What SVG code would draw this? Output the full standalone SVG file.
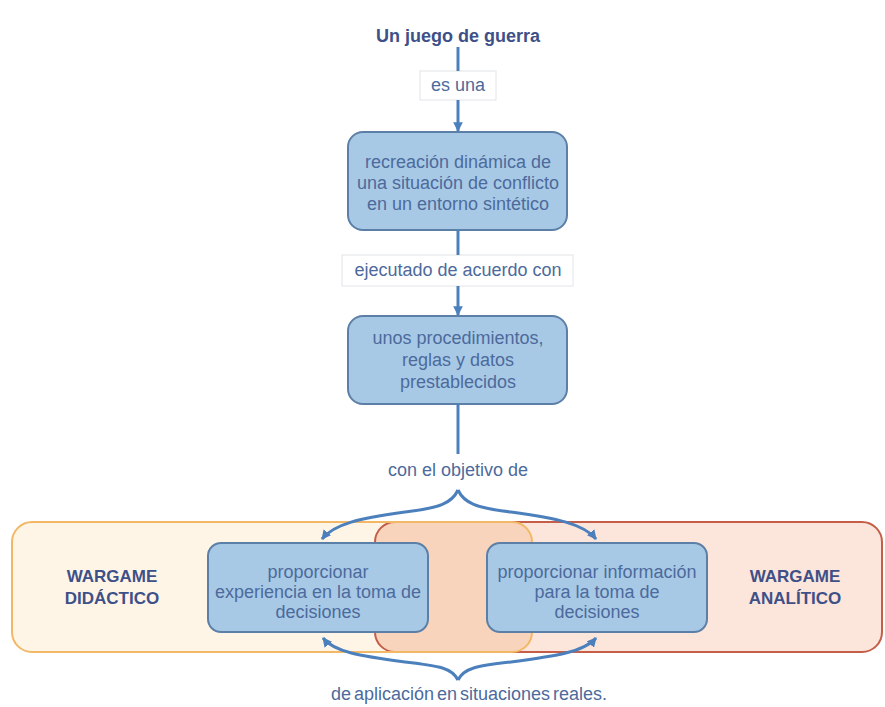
<svg xmlns="http://www.w3.org/2000/svg" width="885" height="707" viewBox="0 0 885 707">
<defs>
<style>
.t{font-family:"Liberation Sans",Arial,sans-serif;font-size:18px;fill:#4D6A9C;text-anchor:middle}
.b{font-family:"Liberation Sans",Arial,sans-serif;font-weight:bold;fill:#3E5088;text-anchor:middle}
.node{fill:#A7C9E5;stroke:#5C7FA8;stroke-width:2}
.lbl{fill:#FFFFFF;stroke:#E2E4E8;stroke-width:1}
.c{fill:none;stroke:#4C80BC;stroke-width:3}
</style>
<marker id="ah" viewBox="0 0 10 10" refX="9" refY="5" markerWidth="3.2" markerHeight="3.2" orient="auto" markerUnits="strokeWidth">
<path d="M0,0 L10,5 L0,10 z" fill="#4C80BC"/>
</marker>
<clipPath id="clipO"><rect x="12" y="522" width="520" height="130" rx="20"/></clipPath>
</defs>
<rect width="885" height="707" fill="#FFFFFF"/>

<g id="wargame-areas">
<rect x="12" y="522" width="520" height="130" rx="20" fill="#FFF5E7"/>
<rect x="375" y="522" width="507" height="130" rx="20" fill="#FCE5DA"/>
<rect x="375" y="522" width="507" height="130" rx="20" fill="#F9D4BC" clip-path="url(#clipO)"/>
<rect x="375" y="522" width="507" height="130" rx="20" fill="none" stroke="#C45E48" stroke-width="2"/>
<rect x="12" y="522" width="520" height="130" rx="20" fill="none" stroke="#F2B866" stroke-width="2"/>
</g>

<g id="title"><text class="b" x="458" y="42" font-size="18">Un juego de guerra</text></g>

<g id="lbl-es-una">
<rect class="lbl" x="420" y="71" width="76" height="29"/>
<text class="t" x="458" y="91">es una</text>
</g>

<g id="box-recreacion">
<rect class="node" x="348" y="132" width="219" height="98" rx="15"/>
<text class="t" x="458" y="168">recreación dinámica de</text>
<text class="t" x="458" y="189">una situación de conflicto</text>
<text class="t" x="458" y="210">en un entorno sintético</text>
</g>

<g id="lbl-ejecutado">
<rect class="lbl" x="342" y="255" width="231" height="31"/>
<text class="t" x="458" y="276">ejecutado de acuerdo con</text>
</g>

<g id="box-procedimientos">
<rect class="node" x="348" y="316" width="219" height="88" rx="15"/>
<text class="t" x="458" y="344">unos procedimientos,</text>
<text class="t" x="458" y="366">reglas y datos</text>
<text class="t" x="458" y="388">prestablecidos</text>
</g>

<g id="lbl-objetivo"><text class="t" x="458" y="476">con el objetivo de</text></g>

<g id="lbl-didactico">
<text class="b" x="112" y="582" font-size="17">WARGAME</text>
<text class="b" x="112" y="604" font-size="17">DIDÁCTICO</text>
</g>

<g id="lbl-analitico">
<text class="b" x="795" y="582" font-size="17">WARGAME</text>
<text class="b" x="795" y="604" font-size="17">ANALÍTICO</text>
</g>

<g id="box-experiencia">
<rect class="node" x="208" y="543" width="220" height="89" rx="13"/>
<text class="t" x="318" y="578">proporcionar</text>
<text class="t" x="318" y="598">experiencia en la toma de</text>
<text class="t" x="318" y="618">decisiones</text>
</g>

<g id="box-informacion">
<rect class="node" x="487" y="543" width="220" height="89" rx="13"/>
<text class="t" x="597" y="578">proporcionar información</text>
<text class="t" x="597" y="598">para la toma de</text>
<text class="t" x="597" y="618">decisiones</text>
</g>

<g id="lbl-aplicacion"><text class="t" x="469" y="700" word-spacing="-2">de aplicación en situaciones reales.</text></g>

<g id="connectors">
<line class="c" x1="458" y1="47" x2="458" y2="71"/>
<line class="c" x1="458" y1="100" x2="458" y2="131" marker-end="url(#ah)"/>
<line class="c" x1="458" y1="230" x2="458" y2="255"/>
<line class="c" x1="458" y1="286" x2="458" y2="315" marker-end="url(#ah)"/>
<line class="c" x1="458" y1="404" x2="458" y2="454"/>
<path class="c" d="M458,490 C452,503 440,508 405,512 C360,518 334,524 322,539" marker-end="url(#ah)"/>
<path class="c" d="M458,490 C464,503 476,508 511,512 C556,518 584,524 596,539" marker-end="url(#ah)"/>
<path class="c" d="M458,680 C452,668 440,666 405,662 C360,656 334,652 323,638" marker-end="url(#ah)"/>
<path class="c" d="M458,680 C464,668 476,666 511,662 C556,656 584,652 596,638" marker-end="url(#ah)"/>
</g>
</svg>
